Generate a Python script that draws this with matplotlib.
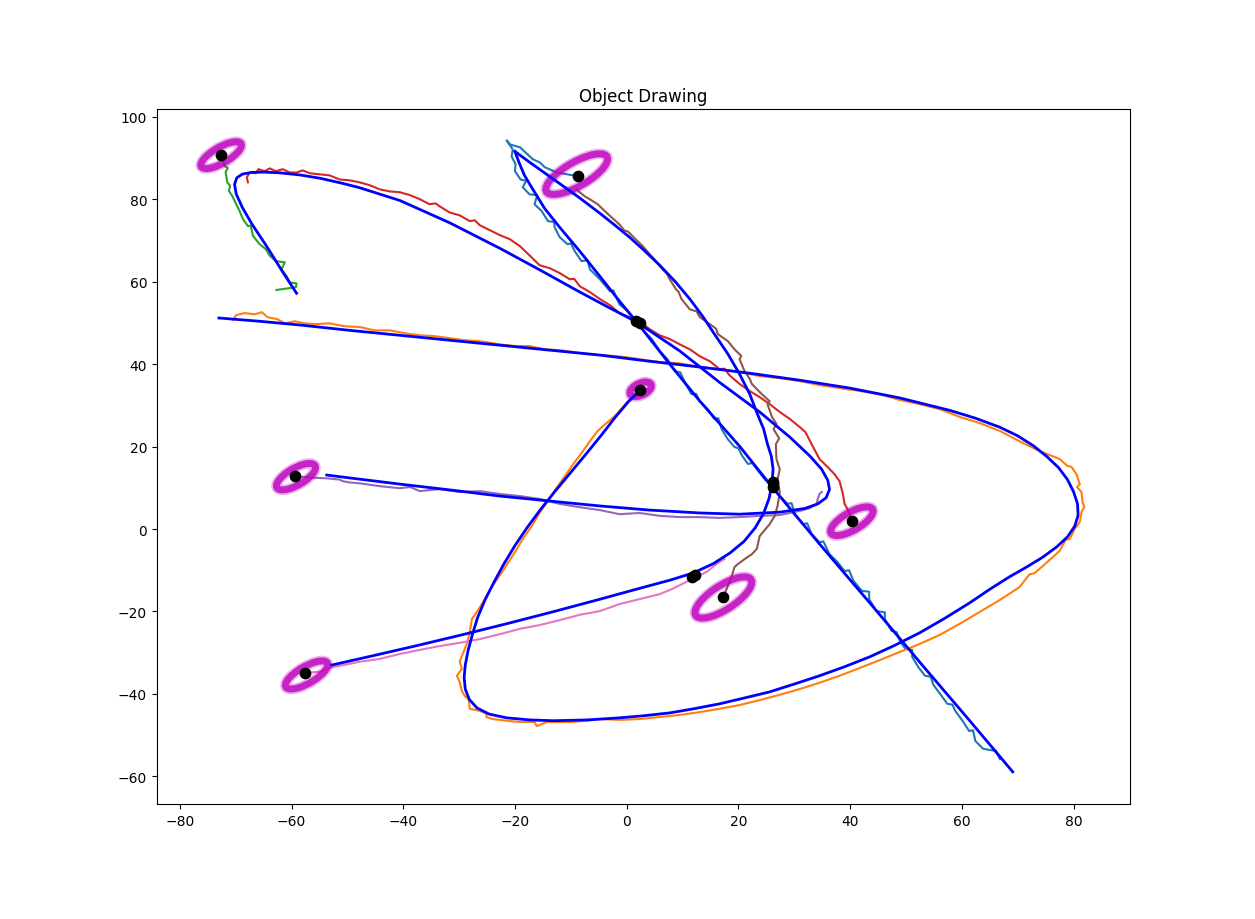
import numpy as np
import matplotlib
matplotlib.use("Agg")
import matplotlib.pyplot as plt
from matplotlib.patches import Ellipse

# ---------------- measured tracks (noisy) ----------------
track_c0 = [(-8.8, 85.6), (-12.5, 86.5), (-14.7, 87.8), (-15.5, 88.9), (-16.8, 89.7), (-18.3, 91.6), (-19.1, 92.6),
            (-20.9, 93.3), (-21.5, 94.3), (-20.4, 92.1), (-20.6, 90.4), (-19.9, 88.5), (-20.0, 86.8), (-19.0, 84.8),
            (-18.0, 84.5), (-18.6, 82.9), (-17.4, 81.2), (-16.0, 81.0), (-16.5, 78.8), (-15.2, 77.1), (-14.1, 74.7),
            (-13.0, 74.5), (-12.9, 73.2), (-12.0, 70.8), (-10.6, 69.1), (-10.0, 69.3), (-9.3, 67.4), (-8.1, 65.0),
            (-7.0, 65.2), (-6.6, 63.0), (-4.8, 60.6), (-3.0, 57.7), (-2.4, 57.9), (-1.3, 54.5), (0.2, 52.8),
            (1.8, 50.2), (3.2, 47.8), (4.5, 46.1), (5.9, 43.2), (7.3, 41.2), (8.6, 38.3), (9.6, 38.0), (10.4, 35.6),
            (11.6, 32.7), (12.4, 32.8), (13.1, 31.0), (14.5, 29.1), (15.7, 26.7), (16.4, 26.9), (17.0, 24.2),
            (18.1, 21.8), (19.3, 19.9), (20.0, 19.6), (20.6, 17.9), (21.7, 15.8), (22.5, 16.0), (23.3, 14.5),
            (24.7, 12.1), (26.0, 10.4), (27.4, 8.0), (28.8, 6.1), (29.5, 6.3), (30.1, 3.6), (31.5, 1.2), (32.3, 1.4),
            (33.1, -1.2), (34.5, -3.2), (35.2, -3.0), (36.3, -6.1), (37.6, -7.8), (39.0, -10.2), (39.8, -10.0),
            (40.6, -12.6), (42.1, -15.0), (43.4, -15.2), (43.4, -17.0), (44.7, -19.9), (46.2, -20.2), (46.2, -21.8),
            (47.4, -24.7), (48.3, -25.0), (48.9, -27.2), (49.9, -29.1), (51.1, -29.3), (51.1, -31.0), (52.2, -33.5),
            (53.4, -35.6), (54.4, -35.8), (54.9, -37.8), (56.1, -40.0), (57.4, -42.4), (58.3, -42.6), (58.8, -44.1),
            (60.1, -46.5), (61.3, -49.0), (62.0, -48.8), (62.4, -51.4), (63.8, -53.3), (65.0, -53.6), (66.1, -53.8),
            (66.8, -55.8)]

track_c1 = [(-70.5, 50.7), (-69.9, 51.9), (-68.4, 52.4), (-66.6, 52.1), (-65.3, 52.6), (-64.3, 51.4), (-62.5, 50.9),
            (-61.2, 49.9), (-59.4, 50.4), (-57.6, 49.9), (-55.8, 49.7), (-53.2, 49.9), (-50.5, 49.2), (-47.8, 49.0),
            (-45.1, 48.2), (-42.4, 48.2), (-39.7, 47.5), (-37.0, 47.0), (-34.4, 46.8), (-31.7, 46.3), (-29.0, 45.8),
            (-26.3, 45.6), (-22.7, 44.8), (-20.0, 44.4), (-17.4, 44.4), (-14.7, 43.6), (-12.0, 43.4), (-8.4, 42.7),
            (-4.8, 42.2), (-1.3, 41.9), (2.3, 41.2), (5.9, 40.5), (9.5, 40.2), (13.1, 39.3), (16.6, 38.8), (20.2, 38.1),
            (23.8, 37.1), (27.4, 36.6), (31.0, 35.9), (34.5, 34.9), (38.1, 34.2), (41.7, 33.5), (45.3, 32.7),
            (48.9, 31.3), (52.4, 30.3), (56.0, 29.1), (59.6, 27.2), (63.2, 25.7), (66.8, 23.8), (70.3, 21.3),
            (73.9, 18.9), (77.5, 17.0), (78.9, 15.3), (79.6, 15.1), (80.5, 13.3), (81.1, 10.9), (80.6, 10.2),
            (81.4, 9.0), (81.6, 6.5), (81.9, 5.4), (81.4, 4.1), (81.1, 1.7), (80.2, 0.0), (79.3, -2.4), (78.6, -2.6),
            (77.5, -5.3), (75.3, -8.0), (73.0, -10.7), (72.1, -11.0), (70.3, -14.1), (66.8, -17.2), (63.2, -20.1),
            (59.6, -23.0), (56.0, -25.7), (52.4, -27.9), (48.9, -29.8), (45.3, -31.8), (41.7, -33.7), (38.1, -35.6),
            (34.5, -37.3), (31.0, -38.8), (27.4, -40.2), (23.8, -41.5), (20.2, -42.7), (16.6, -43.6), (13.1, -44.4),
            (9.5, -45.1), (5.9, -45.6), (2.3, -46.1), (-1.3, -46.3), (-4.8, -46.1), (-7.2, -46.5), (-9.7, -46.8),
            (-12.0, -46.8), (-14.3, -46.8), (-16.1, -47.8), (-16.5, -46.8), (-19.1, -46.8), (-21.5, -46.5),
            (-24.0, -46.1), (-25.1, -45.6), (-25.1, -44.8), (-26.3, -44.1), (-28.1, -43.6), (-28.3, -41.2),
            (-29.0, -40.5), (-29.5, -39.3), (-29.9, -37.1), (-30.4, -35.6), (-29.5, -33.9), (-29.9, -32.2),
            (-29.5, -30.8), (-29.0, -29.1), (-28.5, -27.4), (-28.1, -25.0), (-27.7, -21.8), (-26.7, -19.9),
            (-25.4, -17.0), (-24.2, -14.1), (-22.7, -11.2), (-21.5, -8.7), (-20.0, -5.6), (-18.6, -2.4),
            (-17.0, 0.7), (-15.6, 3.9), (-14.1, 6.8), (-12.7, 9.7), (-11.1, 12.8), (-9.7, 15.5), (-8.2, 18.2),
            (-6.6, 21.3), (-5.2, 23.8), (-3.8, 25.5), (-2.3, 27.2), (-1.3, 28.6), (0.2, 31.0), (1.3, 32.5),
            (2.3, 33.7)]

track_c2 = [(-72.5, 90.7), (-72.0, 88.1), (-71.4, 87.6), (-71.8, 86.6), (-71.5, 84.1), (-71.0, 83.3), (-71.2, 82.0),
            (-70.6, 80.8), (-69.9, 78.8), (-69.3, 77.2), (-68.7, 75.2), (-67.8, 73.5), (-67.3, 73.6), (-66.9, 71.1),
            (-65.7, 69.1), (-64.6, 67.9), (-63.9, 66.3), (-62.8, 65.0), (-61.2, 64.7), (-61.8, 63.0), (-60.9, 61.4),
            (-60.3, 59.8), (-59.1, 59.6), (-59.2, 58.7), (-60.6, 58.4), (-62.7, 58.0)]

track_c3 = [(-67.8, 84.1), (-68.0, 85.3), (-67.5, 86.5), (-66.4, 86.3), (-65.9, 87.3), (-64.8, 86.8), (-63.9, 87.5),
            (-62.8, 86.8), (-61.6, 87.3), (-60.3, 86.5), (-59.1, 86.5), (-58.0, 87.0), (-56.7, 86.3), (-55.3, 86.1),
            (-53.2, 85.8), (-51.4, 84.8), (-49.6, 84.6), (-47.8, 84.1), (-46.0, 83.4), (-44.2, 82.4), (-42.4, 81.9),
            (-40.6, 81.7), (-38.8, 81.0), (-37.0, 80.0), (-35.3, 78.8), (-34.2, 79.0), (-33.5, 78.3), (-31.7, 76.8),
            (-29.9, 76.1), (-28.1, 74.7), (-27.2, 74.9), (-26.3, 73.7), (-24.5, 72.5), (-22.7, 71.3), (-20.9, 70.3),
            (-19.1, 68.6), (-17.4, 66.4), (-15.6, 64.0), (-13.8, 63.3), (-12.0, 62.1), (-10.2, 60.6), (-9.4, 60.7),
            (-8.4, 58.9), (-6.6, 57.5), (-4.8, 55.8), (-3.0, 54.3), (-1.3, 52.4), (0.5, 51.4), (2.3, 50.4),
            (4.1, 48.5), (5.9, 47.0), (7.7, 46.1), (9.5, 44.8), (11.3, 43.6), (13.1, 41.9), (14.9, 40.7), (16.6, 38.8),
            (17.5, 38.9), (18.4, 37.3), (20.2, 35.2), (22.0, 33.5), (23.8, 32.0), (25.6, 30.3), (27.4, 28.4),
            (29.2, 26.7), (31.0, 24.7), (32.0, 23.5), (33.1, 20.6), (34.5, 17.0), (36.0, 15.0), (37.2, 13.3),
            (38.1, 11.6), (38.7, 8.5), (39.0, 6.1), (39.7, 4.4), (40.3, 1.9)]

track_c4 = [(-59.4, 12.8), (-56.7, 12.5), (-53.7, 12.3), (-51.4, 12.0), (-50.8, 11.6), (-49.6, 11.3), (-47.8, 11.1),
            (-44.2, 10.4), (-40.6, 9.9), (-38.8, 10.2), (-37.0, 9.2), (-33.5, 9.7), (-29.9, 9.0), (-26.3, 9.2),
            (-22.7, 8.5), (-19.1, 8.0), (-15.6, 7.3), (-12.0, 6.1), (-8.4, 5.3), (-4.8, 4.6), (-1.3, 3.6), (2.3, 3.9),
            (5.9, 3.2), (9.5, 2.9), (13.1, 2.9), (16.6, 2.7), (20.2, 2.9), (23.8, 3.2), (27.4, 3.4), (31.0, 4.4),
            (32.8, 5.1), (34.0, 6.1), (34.2, 7.3), (34.5, 8.5), (34.9, 9.0)]

track_c5 = [(17.2, -16.5), (17.9, -14.5), (18.8, -11.4), (19.3, -9.2), (19.9, -8.5), (21.1, -7.3), (22.4, -6.1),
            (23.3, -4.8), (23.8, -1.7), (25.6, 1.2), (26.5, 3.2), (27.0, 5.6), (27.4, 9.0), (27.0, 12.1), (27.4, 14.5),
            (26.8, 17.0), (26.7, 20.6), (27.3, 22.0), (26.3, 24.2), (26.8, 25.5), (26.0, 27.2), (25.2, 30.3),
            (25.6, 31.0), (24.2, 32.7), (22.4, 35.2), (22.0, 36.5), (21.1, 38.3), (20.2, 41.2), (20.5, 42.0),
            (19.3, 43.6), (18.1, 45.6), (16.3, 47.3), (16.0, 48.6), (14.9, 49.7), (13.1, 51.4), (12.5, 52.8),
            (11.3, 53.3), (9.8, 55.8), (9.3, 57.5), (8.8, 58.2), (7.7, 60.6), (7.2, 62.0), (6.4, 63.0), (5.2, 65.0),
            (4.6, 66.0), (4.1, 66.7), (2.9, 68.6), (1.6, 70.3), (0.2, 72.2), (-0.4, 72.4), (-1.3, 73.9), (-2.7, 75.6),
            (-3.9, 77.1), (-5.2, 78.8), (-6.6, 80.0), (-7.5, 80.7), (-8.4, 81.7), (-8.9, 82.4)]

track_c6 = [(-57.5, -34.9), (-54.9, -34.6), (-52.6, -33.5), (-49.6, -32.7), (-47.8, -32.2), (-44.2, -31.5),
            (-40.6, -30.3), (-37.0, -29.3), (-33.5, -28.4), (-29.9, -27.6), (-26.3, -26.7), (-22.7, -25.5),
            (-19.1, -24.2), (-15.6, -23.3), (-12.0, -22.1), (-8.4, -20.8), (-4.8, -19.9), (-1.3, -18.2),
            (2.3, -17.0), (5.9, -15.8), (8.2, -14.5), (10.7, -12.8), (12.5, -11.6), (14.3, -10.4), (15.4, -9.2),
            (16.6, -8.0), (17.5, -7.3)]

tracks = [track_c0, track_c1, track_c2, track_c3, track_c4, track_c5, track_c6]
track_colors = ["C0", "C1", "C2", "C3", "C4", "C5", "C6"]

# ---------------- estimated (smooth) trajectories ----------------
est_a = [(-59.1, 57.2), (-61.5, 62.2), (-64.5, 68.7), (-67.0, 73.8), (-68.8, 78.0), (-69.9, 81.3), (-70.2, 83.6),
         (-69.8, 85.2), (-68.8, 86.1), (-67.2, 86.5), (-65.0, 86.6), (-62.0, 86.4), (-58.5, 85.9), (-54.9, 85.1),
         (-51.0, 83.9), (-47.8, 82.8), (-40.6, 79.7), (-31.7, 74.3), (-22.7, 68.1), (-15.6, 62.9), (-8.4, 57.5),
         (-3.0, 53.6), (1.8, 50.2), (9.5, 43.2), (16.6, 35.6), (23.8, 28.4), (29.2, 22.3), (32.8, 17.7),
         (34.9, 14.5), (36.0, 11.8), (36.3, 9.6), (35.7, 7.6), (34.2, 6.1), (31.9, 5.0), (27.4, 4.1), (20.2, 3.6),
         (13.1, 3.9), (4.1, 4.6), (-4.8, 5.6), (-13.8, 6.8), (-22.7, 8.0), (-31.7, 9.5), (-40.6, 10.9),
         (-47.8, 12.1), (-53.7, 13.1)]

est_b = [(69.1, -58.9), (61.4, -46.5), (52.4, -32.2), (43.5, -17.9), (34.5, -3.6), (25.9, 10.4), (20.2, 20.1),
         (13.1, 31.0), (7.7, 40.0), (1.8, 50.2), (-1.3, 55.3), (-4.8, 61.3), (-8.4, 67.4), (-12.0, 73.2),
         (-14.7, 77.8), (-16.8, 82.4), (-18.3, 85.8), (-19.3, 89.0), (-20.0, 91.6)]

est_c = [(-52.8, -33.0), (-45.0, -30.6), (-37.0, -28.1), (-29.0, -25.5), (-21.0, -22.8), (-13.0, -20.0),
         (-5.0, -17.1), (2.0, -14.5), (8.0, -12.3), (12.0, -10.6), (15.5, -8.4), (18.5, -5.8), (21.0, -3.0),
         (23.0, 0.3), (24.5, 3.8), (25.5, 7.5), (26.0, 11.0), (26.2, 14.5), (25.9, 17.6), (25.2, 20.6),
         (24.5, 24.3), (23.4, 27.9), (22.0, 32.8), (20.2, 37.6), (18.1, 42.5), (15.7, 47.3), (13.6, 51.6),
         (11.3, 55.8), (8.7, 60.0), (5.9, 64.0), (3.2, 67.5), (0.5, 70.8), (-2.2, 73.8), (-4.8, 76.6),
         (-8.5, 80.4), (-12.0, 83.8), (-14.8, 86.5), (-17.4, 89.0), (-18.7, 90.3), (-20.0, 91.6)]

est_d = [(-73.0, 51.2), (-65.7, 50.4), (-58.5, 49.5), (-49.6, 48.2), (-40.6, 47.0), (-31.7, 45.8), (-22.7, 44.6),
         (-13.8, 43.4), (-4.8, 42.2), (4.1, 40.7), (13.1, 39.3), (22.0, 37.8), (31.0, 36.1), (39.9, 34.2),
         (48.9, 31.8), (57.8, 28.8), (62.4, 26.9), (66.8, 24.7), (70.0, 22.6), (72.8, 20.2), (75.2, 17.6),
         (77.3, 14.9), (78.9, 12.0), (80.0, 9.0), (80.7, 6.1), (80.8, 3.3), (80.2, 0.7), (78.9, -1.9),
         (77.0, -4.3), (74.5, -6.8), (71.6, -9.2), (68.5, -11.6), (65.0, -14.6), (61.4, -17.9), (57.0, -21.6),
         (52.4, -25.2), (48.0, -28.2), (43.5, -31.0), (39.0, -33.4), (34.5, -35.6), (30.0, -37.6), (25.6, -39.5),
         (21.0, -41.0), (16.6, -42.4), (12.0, -43.6), (7.7, -44.6), (3.0, -45.3), (-1.3, -45.8), (-7.0, -46.3),
         (-13.2, -46.5), (-17.4, -46.3), (-21.5, -45.8), (-24.6, -44.9), (-26.8, -43.4), (-28.2, -41.3),
         (-28.9, -38.8), (-29.1, -36.0), (-28.9, -33.0), (-28.4, -29.5), (-27.6, -25.5), (-26.7, -21.5),
         (-25.4, -17.3), (-23.8, -13.0), (-22.0, -8.5), (-20.0, -4.0), (-17.8, 0.4), (-15.4, 4.8), (-12.8, 9.2),
         (-10.1, 13.6), (-7.4, 18.0), (-4.7, 22.5), (-2.0, 27.2), (0.3, 30.9), (2.5, 33.7)]

estimates = [est_a, est_b, est_c, est_d]

# ---------------- covariance ellipses ----------------
ell_centers = [(-72.6, 90.7), (-8.95, 86.1), (2.5, 33.9), (-59.2, 12.7), (17.3, -16.6), (-57.3, -35.4), (40.3, 1.9)]
ell_covs = [[[13.22, 8.73], [8.73, 10.59]],
            [[30.58, 20.30], [20.30, 24.34]],
            [[3.68, 1.60], [1.60, 3.13]],
            [[12.2, 7.74], [7.74, 10.28]],
            [[25.9, 18.74], [18.74, 24.95]],
            [[14.41, 9.46], [9.46, 11.63]],
            [[14.48, 9.30], [9.30, 12.03]]]

# ---------------- current positions ----------------
dots = [(-72.6, 90.7), (-8.8, 85.6), (2.3, 33.7), (-59.4, 12.8), (17.2, -16.6), (-57.5, -34.9), (40.3, 1.9),
        (1.7, 50.5), (2.3, 49.9), (26.1, 11.4), (26.2, 10.2), (11.6, -11.7), (12.2, -11.1)]

fig = plt.figure(figsize=(12.55, 9.2), dpi=100)
ax = fig.add_subplot(111)
fig.subplots_adjust(left=0.125, right=0.9, top=0.88, bottom=0.125)

for tr, c in zip(tracks, track_colors):
    xs, ys = zip(*tr)
    ax.plot(xs, ys, color=c, lw=1.5, zorder=2)

for (cx, cy), cov in zip(ell_centers, ell_covs):
    vals, vecs = np.linalg.eigh(np.array(cov))
    ang = np.degrees(np.arctan2(vecs[1, 1], vecs[0, 1]))
    w, h = 2 * np.sqrt(vals[1]), 2 * np.sqrt(vals[0])
    ax.add_patch(Ellipse((cx, cy), w, h, angle=ang, fill=False, edgecolor="m", lw=7.5, alpha=0.3, zorder=3))
    ax.add_patch(Ellipse((cx, cy), w, h, angle=ang, fill=False, edgecolor="m", lw=5, alpha=0.8, zorder=3))

for est in estimates:
    xs, ys = zip(*est)
    ax.plot(xs, ys, color="b", lw=2, zorder=4)

dx, dy = zip(*dots)
ax.scatter(dx, dy, s=55, color="k", zorder=5)

ax.set_xlim(-84.1, 90.0)
ax.set_ylim(-66.7, 101.8)
ax.set_xticks([-80, -60, -40, -20, 0, 20, 40, 60, 80])
ax.set_yticks([-60, -40, -20, 0, 20, 40, 60, 80, 100])
ax.set_title("Object Drawing")

fig.savefig("out.png", dpi=100)
